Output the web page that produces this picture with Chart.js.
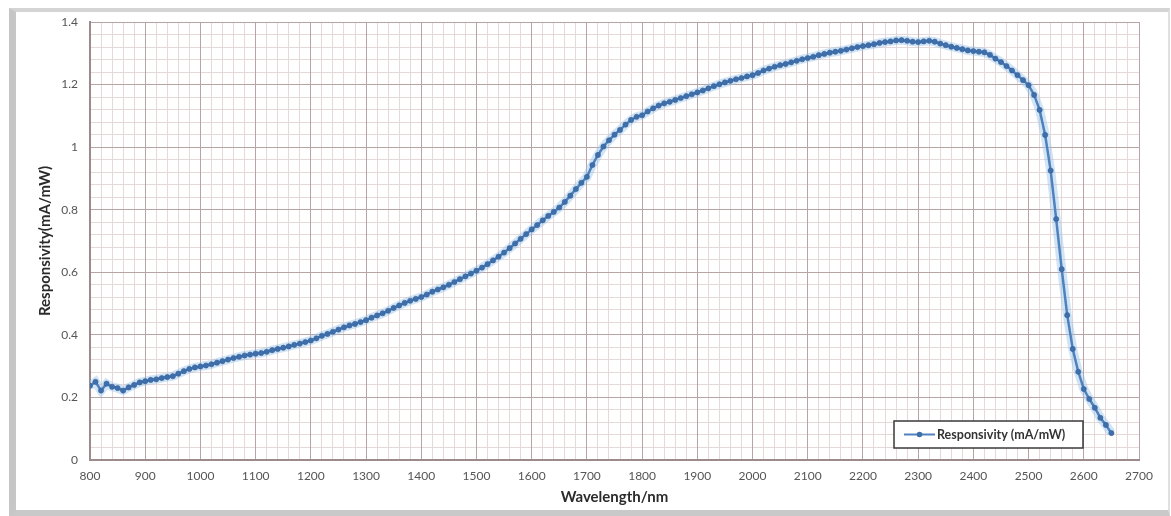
<!DOCTYPE html>
<html>
<head>
<meta charset="utf-8">
<script src="https://cdn.jsdelivr.net/npm/chart.js@4.4.1/dist/chart.umd.min.js"></script>
<style>
  html, body { margin: 0; padding: 0; background: #ffffff; }
  body { width: 1171px; height: 516px; position: relative; overflow: hidden; }
  /* grey picture frame like the screenshot */
  .frame {
    position: absolute; left: 9px; top: 8px; width: 1152px; height: 498px;
    border-top: 4px solid #d4d4d4; border-left: 7px solid #c6c6c6;
    border-bottom: 6px solid #c9c9c9; border-right: 2px solid #e0e0e0;
  }
  #wrap { position: absolute; left: 0; top: 0; width: 1171px; height: 516px; }
</style>
</head>
<body>
<div class="frame"></div>
<div id="wrap"><canvas id="respChart" width="1171" height="516"></canvas></div>
<script>
// 파장 (nm)
const wavelengths = [
  800, 810, 820, 830, 840, 850, 860, 870, 880, 890,
  900, 910, 920, 930, 940, 950, 960, 970, 980, 990,
  1000, 1010, 1020, 1030, 1040, 1050, 1060, 1070, 1080, 1090,
  1100, 1110, 1120, 1130, 1140, 1150, 1160, 1170, 1180, 1190,
  1200, 1210, 1220, 1230, 1240, 1250, 1260, 1270, 1280, 1290,
  1300, 1310, 1320, 1330, 1340, 1350, 1360, 1370, 1380, 1390,
  1400, 1410, 1420, 1430, 1440, 1450, 1460, 1470, 1480, 1490,
  1500, 1510, 1520, 1530, 1540, 1550, 1560, 1570, 1580, 1590,
  1600, 1610, 1620, 1630, 1640, 1650, 1660, 1670, 1680, 1690,
  1700, 1710, 1720, 1730, 1740, 1750, 1760, 1770, 1780, 1790,
  1800, 1810, 1820, 1830, 1840, 1850, 1860, 1870, 1880, 1890,
  1900, 1910, 1920, 1930, 1940, 1950, 1960, 1970, 1980, 1990,
  2000, 2010, 2020, 2030, 2040, 2050, 2060, 2070, 2080, 2090,
  2100, 2110, 2120, 2130, 2140, 2150, 2160, 2170, 2180, 2190,
  2200, 2210, 2220, 2230, 2240, 2250, 2260, 2270, 2280, 2290,
  2300, 2310, 2320, 2330, 2340, 2350, 2360, 2370, 2380, 2390,
  2400, 2410, 2420, 2430, 2440, 2450, 2460, 2470, 2480, 2490,
  2500, 2510, 2520, 2530, 2540, 2550, 2560, 2570, 2580, 2590,
  2600, 2610, 2620, 2630, 2640, 2650
];

// 응답도 (mA/mW)
const responsivity = [
  0.237, 0.250, 0.222, 0.244, 0.234, 0.230, 0.222, 0.232, 0.240, 0.248,
  0.252, 0.256, 0.258, 0.262, 0.265, 0.268, 0.276, 0.284, 0.291, 0.296,
  0.299, 0.302, 0.306, 0.311, 0.316, 0.321, 0.326, 0.330, 0.334, 0.337,
  0.340, 0.342, 0.346, 0.351, 0.355, 0.359, 0.363, 0.368, 0.372, 0.377,
  0.382, 0.389, 0.397, 0.403, 0.410, 0.417, 0.424, 0.430, 0.435, 0.441,
  0.447, 0.455, 0.462, 0.469, 0.477, 0.486, 0.494, 0.502, 0.509, 0.515,
  0.521, 0.529, 0.538, 0.545, 0.552, 0.560, 0.569, 0.578, 0.587, 0.596,
  0.605, 0.615, 0.626, 0.638, 0.650, 0.663, 0.677, 0.692, 0.707, 0.722,
  0.737, 0.751, 0.766, 0.780, 0.793, 0.807, 0.825, 0.845, 0.866, 0.886,
  0.905, 0.943, 0.975, 1.002, 1.022, 1.040, 1.055, 1.072, 1.087, 1.097,
  1.102, 1.114, 1.124, 1.133, 1.140, 1.145, 1.151, 1.157, 1.163, 1.169,
  1.175, 1.181, 1.188, 1.195, 1.201, 1.207, 1.212, 1.217, 1.221, 1.226,
  1.230, 1.237, 1.245, 1.251, 1.257, 1.262, 1.266, 1.271, 1.276, 1.281,
  1.285, 1.289, 1.294, 1.298, 1.302, 1.305, 1.308, 1.312, 1.316, 1.320,
  1.323, 1.326, 1.329, 1.333, 1.336, 1.338, 1.341, 1.342, 1.340, 1.337,
  1.336, 1.338, 1.340, 1.337, 1.331, 1.326, 1.321, 1.317, 1.313, 1.309,
  1.307, 1.305, 1.303, 1.295, 1.283, 1.272, 1.259, 1.245, 1.230, 1.214,
  1.198, 1.167, 1.119, 1.039, 0.925, 0.770, 0.610, 0.463, 0.355, 0.282,
  0.227, 0.195, 0.167, 0.135, 0.112, 0.086
];

const seriesName = "Responsivity (mA/mW)";
const xTitle = "Wavelength/nm";
const yTitle = "Responsivity(mA/mW)";

const lineBlue = "#4f81bd";
const markerBlue = "#3f6fab";
const majorGrid = "#b7a5a5";
const minorGrid = "#e4d8d8";
const axisLine = "#9b8b8b";

const points = wavelengths.map((w, i) => ({ x: w, y: responsivity[i] }));

// 범례 상자 (차트 영역 안 오른쪽 아래)
const boxLegend = {
  id: "boxLegend",
  afterDraw(chart) {
    const { ctx, chartArea } = chart;
    const ds = chart.data.datasets[0];
    const right = chartArea.right - 56;
    const bottom = chartArea.bottom - 12;
    const w = 189, h = 27;
    const left = right - w, top = bottom - h;
    const cy = top + h / 2;
    ctx.save();
    ctx.fillStyle = "#ffffff";
    ctx.fillRect(left, top, w, h);
    ctx.strokeStyle = "#3a3a3a";
    ctx.lineWidth = 1.5;
    ctx.strokeRect(left, top, w, h);
    // 선 + 마커 샘플
    ctx.strokeStyle = ds.borderColor;
    ctx.lineWidth = 2;
    ctx.beginPath();
    ctx.moveTo(left + 10, cy);
    ctx.lineTo(left + 41, cy);
    ctx.stroke();
    ctx.fillStyle = ds.pointBackgroundColor;
    ctx.beginPath();
    ctx.arc(left + 25.5, cy, 2.8, 0, Math.PI * 2);
    ctx.fill();
    ctx.fillStyle = "#333333";
    ctx.font = "bold 12.5px Lato";
    ctx.textBaseline = "middle";
    ctx.fillText(ds.label, left + 43, cy + 0.5);
    ctx.restore();
  }
};

// 보조 눈금선 색 (주 눈금 위치는 비움)
function minorX(ctx) {
  return Math.round(ctx.tick.value) % 100 === 0 ? "rgba(0,0,0,0)" : minorGrid;
}
function minorY(ctx) {
  return Math.round(ctx.tick.value * 100) % 20 === 0 ? "rgba(0,0,0,0)" : minorGrid;
}

const ctx = document.getElementById("respChart").getContext("2d");
const respChart = new Chart(ctx, {
  type: "line",
  data: {
    datasets: [
      {
        label: seriesName,
        data: points,
        borderColor: lineBlue,
        backgroundColor: lineBlue,
        borderWidth: 2.5,
        pointRadius: 2.6,
        pointBorderWidth: 0.6,
        pointBackgroundColor: markerBlue,
        pointBorderColor: "#35639c",
        tension: 0,
        fill: false,
        xAxisID: "x",
        yAxisID: "y",
        order: 1,
      },
      {
        // 선 둘레의 옅은 번짐
        label: "halo",
        data: points,
        borderColor: "rgba(150, 195, 235, 0.45)",
        borderWidth: 9,
        pointRadius: 0,
        tension: 0,
        fill: false,
        xAxisID: "x",
        yAxisID: "y",
        order: 2,
      },
    ],
  },
  options: {
    responsive: false,
    animation: false,
    events: [],
    layout: { padding: { left: 32, right: 32, top: 22, bottom: 0 } },
    plugins: { legend: { display: false }, tooltip: { enabled: false } },
    scales: {
      xMinor: {
        type: "linear", position: "bottom", min: 800, max: 2700, weight: 0,
        ticks: { display: false, stepSize: 20 },
        grid: { color: minorX, lineWidth: 1, drawTicks: false },
        border: { display: false },
        afterFit(scale) { scale.height = 0; },
      },
      yMinor: {
        type: "linear", position: "left", min: 0, max: 1.4, weight: 0,
        ticks: { display: false, stepSize: 0.04 },
        grid: { color: minorY, lineWidth: 1, drawTicks: false },
        border: { display: false },
        afterFit(scale) { scale.width = 0; },
      },
      x: {
        type: "linear", position: "bottom", min: 800, max: 2700, weight: 1,
        ticks: {
          stepSize: 100, padding: 9, color: "#555555",
          font: { family: "Lato", size: 12 },
          maxRotation: 0, autoSkip: false,
          callback: (v) => String(Math.round(v)),
        },
        grid: { color: majorGrid, lineWidth: 1, drawTicks: false },
        border: { display: true, color: axisLine, width: 2 },
        title: {
          display: true, text: xTitle, color: "#2b2b2b",
          font: { family: "Lato", size: 15, weight: "bold" },
          padding: { top: 0, bottom: 10 },
        },
        afterFit(scale) { scale.height = 56; },
      },
      y: {
        type: "linear", position: "left", min: 0, max: 1.4, weight: 1,
        ticks: {
          stepSize: 0.2, padding: 12, color: "#555555",
          font: { family: "Lato", size: 12 },
          callback: (v) => String(Math.round(v * 10) / 10),
        },
        grid: { color: majorGrid, lineWidth: 1, drawTicks: false },
        border: { display: true, color: axisLine, width: 2 },
        title: {
          display: true, text: yTitle, color: "#2b2b2b",
          font: { family: "Lato", size: 15, weight: "bold" },
          padding: { top: 4, bottom: 0 },
        },
        afterFit(scale) { scale.width = 58; },
      },
    },
  },
  plugins: [boxLegend],
});
</script>
</body>
</html>
